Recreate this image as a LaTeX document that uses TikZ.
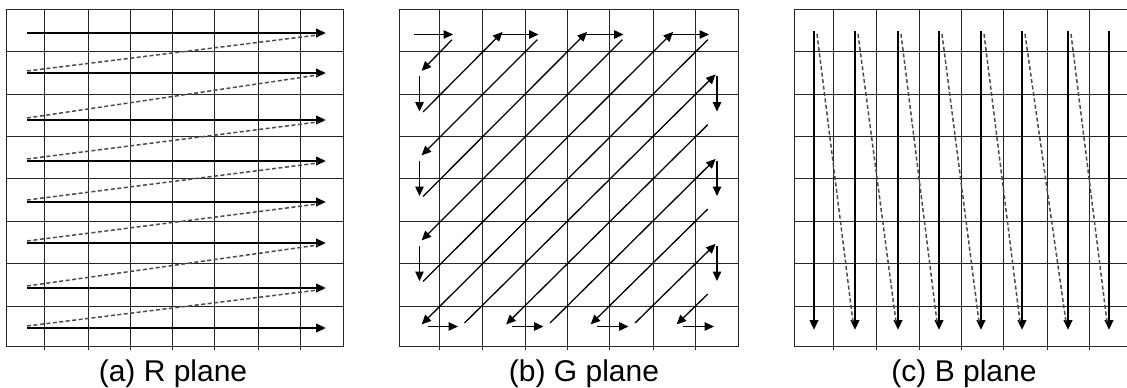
\documentclass[tikz,border=0pt]{standalone}
\usepackage{fontspec}
\setmainfont{Liberation Sans}
\usetikzlibrary{arrows.meta}
\begin{document}
\begin{tikzpicture}[x=1pt,y=-1pt,
  gridline/.style={line width=1.2pt, draw=black!85},
  rowarrow/.style={line width=2.3pt, draw=black, -{Triangle[length=10pt,width=8.5pt]}},
  retline/.style={line width=1.5pt, draw=black!70, dash pattern=on 4pt off 2.5pt},
  garrow/.style={line width=1.3pt, draw=black, -{Triangle[length=9.5pt,width=8.5pt]}},
  caption/.style={anchor=base, font=\fontsize{30}{36}\selectfont}]
\clip (0,0) rectangle (1127,388);
\fill[white] (0,0) rectangle (1127,388);
% ---------- grids ----------
\foreach \xl/\xr/\inner in {6.5/343.5/{44.5,88.5,130.5,172.5,214.5,258.5,300.5},
                            399.5/738.5/{439.5,482.5,525.5,567.5,609.5,653.5,695.5},
                            794.5/1131.5/{833.5,876.5,919.5,961.5,1003.5,1047.5,1089.5}}{
  \draw[gridline] (\xl,9.5) rectangle (\xr,346.5);
  \foreach \x in \inner { \draw[gridline] (\x,9.5) -- (\x,349.5); }
  \foreach \y in {51.5,94.5,136.5,178.5,221.5,263.5,306.5}{
    \draw[gridline] (\xl,\y) -- (\xr,\y);
  }
}
% ---------- (a) R plane ----------
\foreach \i/\y in {0/33,1/73,2/120,3/161,4/202,5/243,6/288,7/328}{
  \coordinate (aS\i) at (27,\y);
  \coordinate (aE\i) at (326,\y);
  \coordinate (dS\i) at (27,{\y-2});
  \coordinate (dE\i) at (318,{\y+2});
}
\foreach \i in {0,...,7}{ \draw[rowarrow] (aS\i) -- (aE\i); }
\foreach \i [evaluate=\i as \j using int(\i+1)] in {0,...,6}{
  \draw[retline] (dS\j) -- (dE\i);
}
\node[caption] (capa) at (173,381) {(a) R plane};
% ---------- (b) G plane ----------
\foreach \r/\y in {0/30.5,1/73,2/115.5,3/157.5,4/200,5/242.5,6/285,7/326.5}{
  \foreach \c/\x in {0/419.5,1/461,2/504,3/546.5,4/588.5,5/631.5,6/674.5,7/717}{
    \coordinate (g-\r-\c) at (\x,\y);
  }
}
% top row steps to the right
\foreach \b/\d in {0/1, 2/3, 4/5, 6/7}{
  \draw[garrow] ([shift={(-6,4)}]g-0-\b) -- ([shift={(-8,4)}]g-0-\d);
}
% bottom row steps to the right
\foreach \b/\d in {0/1, 2/3, 4/5, 6/7}{
  \draw[garrow] ([shift={(8,0)}]g-7-\b) -- ([shift={(-3,0)}]g-7-\d);
}
% vertical steps
\foreach \a/\b/\c/\d in {1/0/2/0, 3/0/4/0, 5/0/6/0,
                         1/7/2/7, 3/7/4/7, 5/7/6/7}{
  \draw[garrow, shorten >=4pt, shorten <=3pt] (g-\a-\b) -- (g-\c-\d);
}
% diagonal steps
\foreach \a/\b/\c/\d in {0/1/1/0, 0/3/3/0, 0/5/5/0, 0/7/7/0, 2/7/7/2, 4/7/7/4, 6/7/7/6}{
  \draw[garrow, shorten >=3pt, shorten <=13pt] (g-\a-\b) -- (g-\c-\d);
}
\foreach \a/\b/\c/\d in {2/0/0/2, 4/0/0/4, 6/0/0/6, 7/1/1/7, 7/3/3/7, 7/5/5/7}{
  \draw[garrow, shorten >=2pt, shorten <=5pt] (g-\a-\b) -- (g-\c-\d);
}
\node[caption] (capb) at (584,381) {(b) G plane};
% ---------- (c) B plane ----------
\foreach \i/\x in {0/814,1/855,2/898,3/939,4/981,5/1022,6/1068,7/1109}{
  \coordinate (bT\i) at (\x,31);
  \coordinate (bB\i) at (\x,330);
  \coordinate (eS\i) at ({\x+3},34);
  \coordinate (eE\i) at ({\x-2},322);
}
\foreach \i in {0,...,7}{ \draw[rowarrow] (bT\i) -- (bB\i); }
\foreach \i [evaluate=\i as \j using int(\i+1)] in {0,...,6}{
  \draw[retline] (eS\i) -- (eE\j);
}
\node[caption] (capc) at (964,381) {(c) B plane};
\end{tikzpicture}
\end{document}
